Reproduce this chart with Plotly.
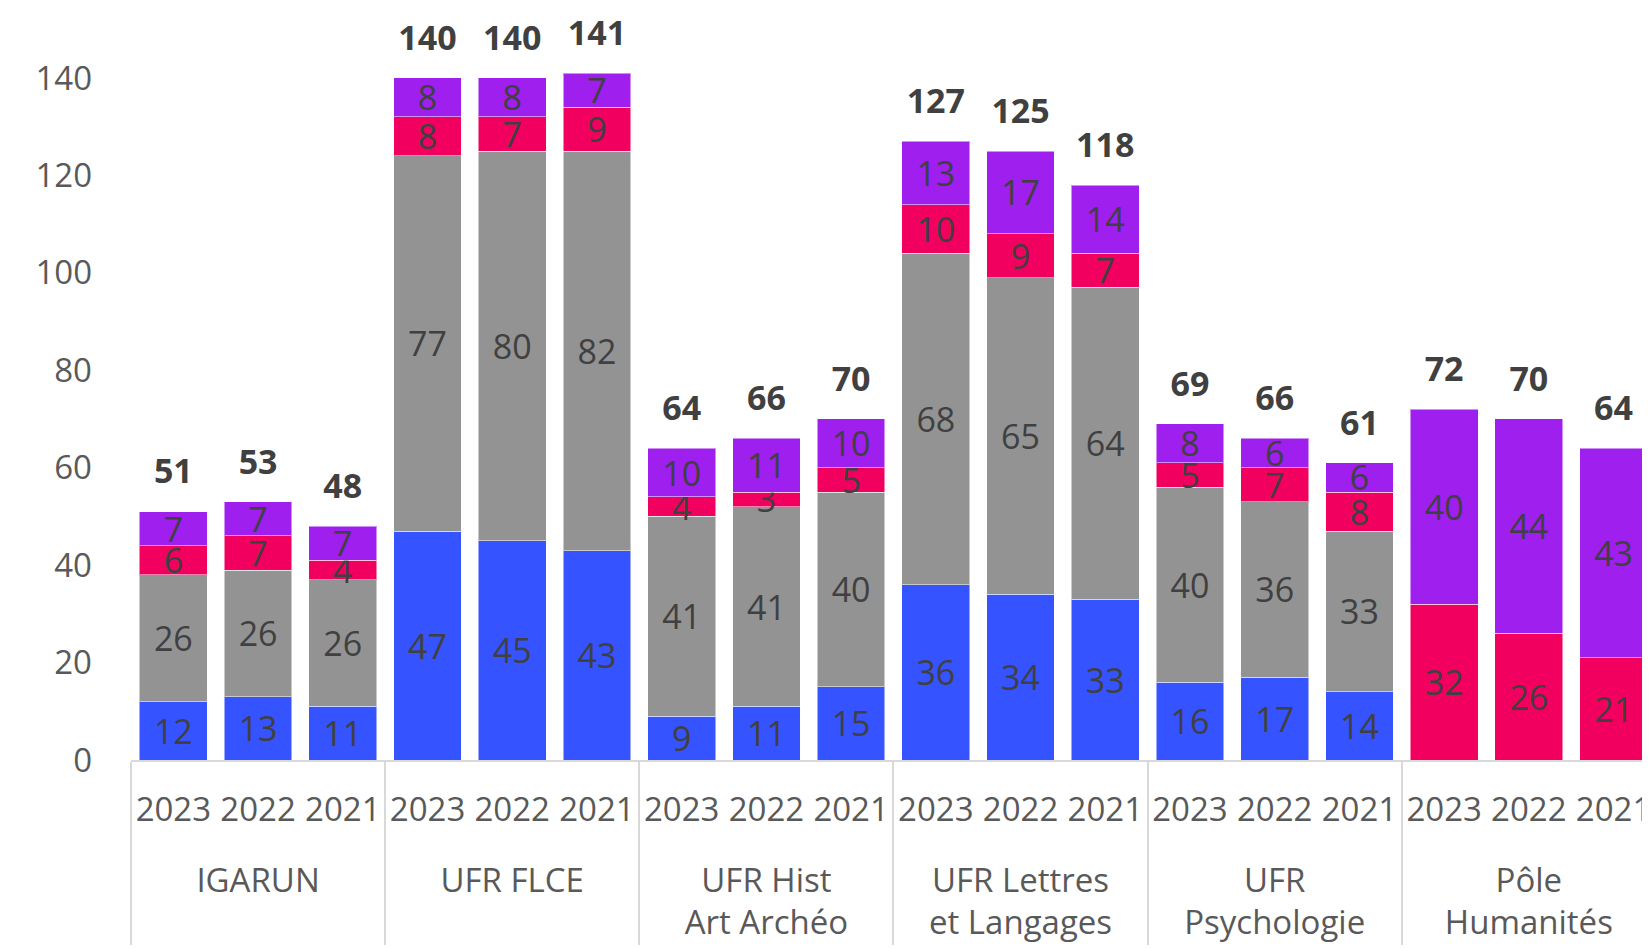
import plotly.graph_objects as go

groups = ["IGARUN", "UFR FLCE", "UFR Hist<br>Art Archéo", "UFR Lettres<br>et Langages",
          "UFR<br>Psychologie", "Pôle<br>Humanités"]
years = ["2023", "2022", "2021"]

# values per bar, ordered group by group, years 2023, 2022, 2021
blue = [12, 13, 11, 47, 45, 43, 9, 11, 15, 36, 34, 33, 16, 17, 14, None, None, None]
gray = [26, 26, 26, 77, 80, 82, 41, 41, 40, 68, 65, 64, 40, 36, 33, None, None, None]
red = [6, 7, 4, 8, 7, 9, 4, 3, 5, 10, 9, 7, 5, 7, 8, 32, 26, 21]
purple = [7, 7, 7, 8, 8, 7, 10, 11, 10, 13, 17, 14, 8, 6, 6, 40, 44, 43]
totals = [51, 53, 48, 140, 140, 141, 64, 66, 70, 127, 125, 118, 69, 66, 61, 72, 70, 64]

# a leading empty line gives the second-level labels the extra drop seen in the reference
x_group = ["<br>" + g for g in groups for _ in years]
x_year = [y for _ in groups for y in years]
x = [x_group, x_year]

FONT = "Open Sans"
LABEL = "#404040"
TICK = "#595959"

series = [
    (blue, "#3553FF"),
    (gray, "#939393"),
    (red, "#F2005F"),
    (purple, "#9E1FEE"),
]

fig = go.Figure()
for vals, col in series:
    fig.add_trace(go.Bar(
        x=x, y=vals,
        marker=dict(color=col, line=dict(color="rgba(255,255,255,0.5)", width=1)),
        text=[("" if v is None else str(v)) for v in vals],
        textposition="inside",
        insidetextanchor="middle",
        textangle=0,
        constraintext="none",
        textfont=dict(family=FONT, size=34, color=LABEL),
        hoverinfo="skip",
        showlegend=False,
    ))

fig.add_trace(go.Scatter(
    x=x, y=totals,
    mode="markers+text",
    marker=dict(size=30, opacity=0),
    text=[f"<b>{t}</b>" for t in totals],
    textposition="top center",
    textfont=dict(family=FONT, size=34, color=LABEL),
    hoverinfo="skip",
    showlegend=False,
    cliponaxis=False,
))

fig.update_layout(
    width=1642, height=940,
    margin=dict(l=123, r=0, t=12, b=188),
    barmode="stack",
    bargap=0.2,
    plot_bgcolor="white",
    paper_bgcolor="white",
    font=dict(family=FONT, color=TICK, size=33),
    uniformtext=dict(minsize=34, mode="show"),
)
fig.update_xaxes(
    type="multicategory",
    range=[-0.5, 17.43],
    showline=True, linecolor="#D9D9D9", linewidth=2,
    showdividers=True, dividercolor="#D9D9D9", dividerwidth=2,
    tickangle=0,
    tickfont=dict(family=FONT, size=33, color=TICK),
    ticklabelstandoff=19,
    showgrid=False,
)
fig.update_yaxes(
    range=[0, 151.9],
    tickvals=[0, 20, 40, 60, 80, 100, 120, 140],
    showgrid=False, zeroline=False, showline=False,
    tickfont=dict(family=FONT, size=33, color=TICK),
    ticklabelstandoff=38,
)

fig.write_html("out.html")
